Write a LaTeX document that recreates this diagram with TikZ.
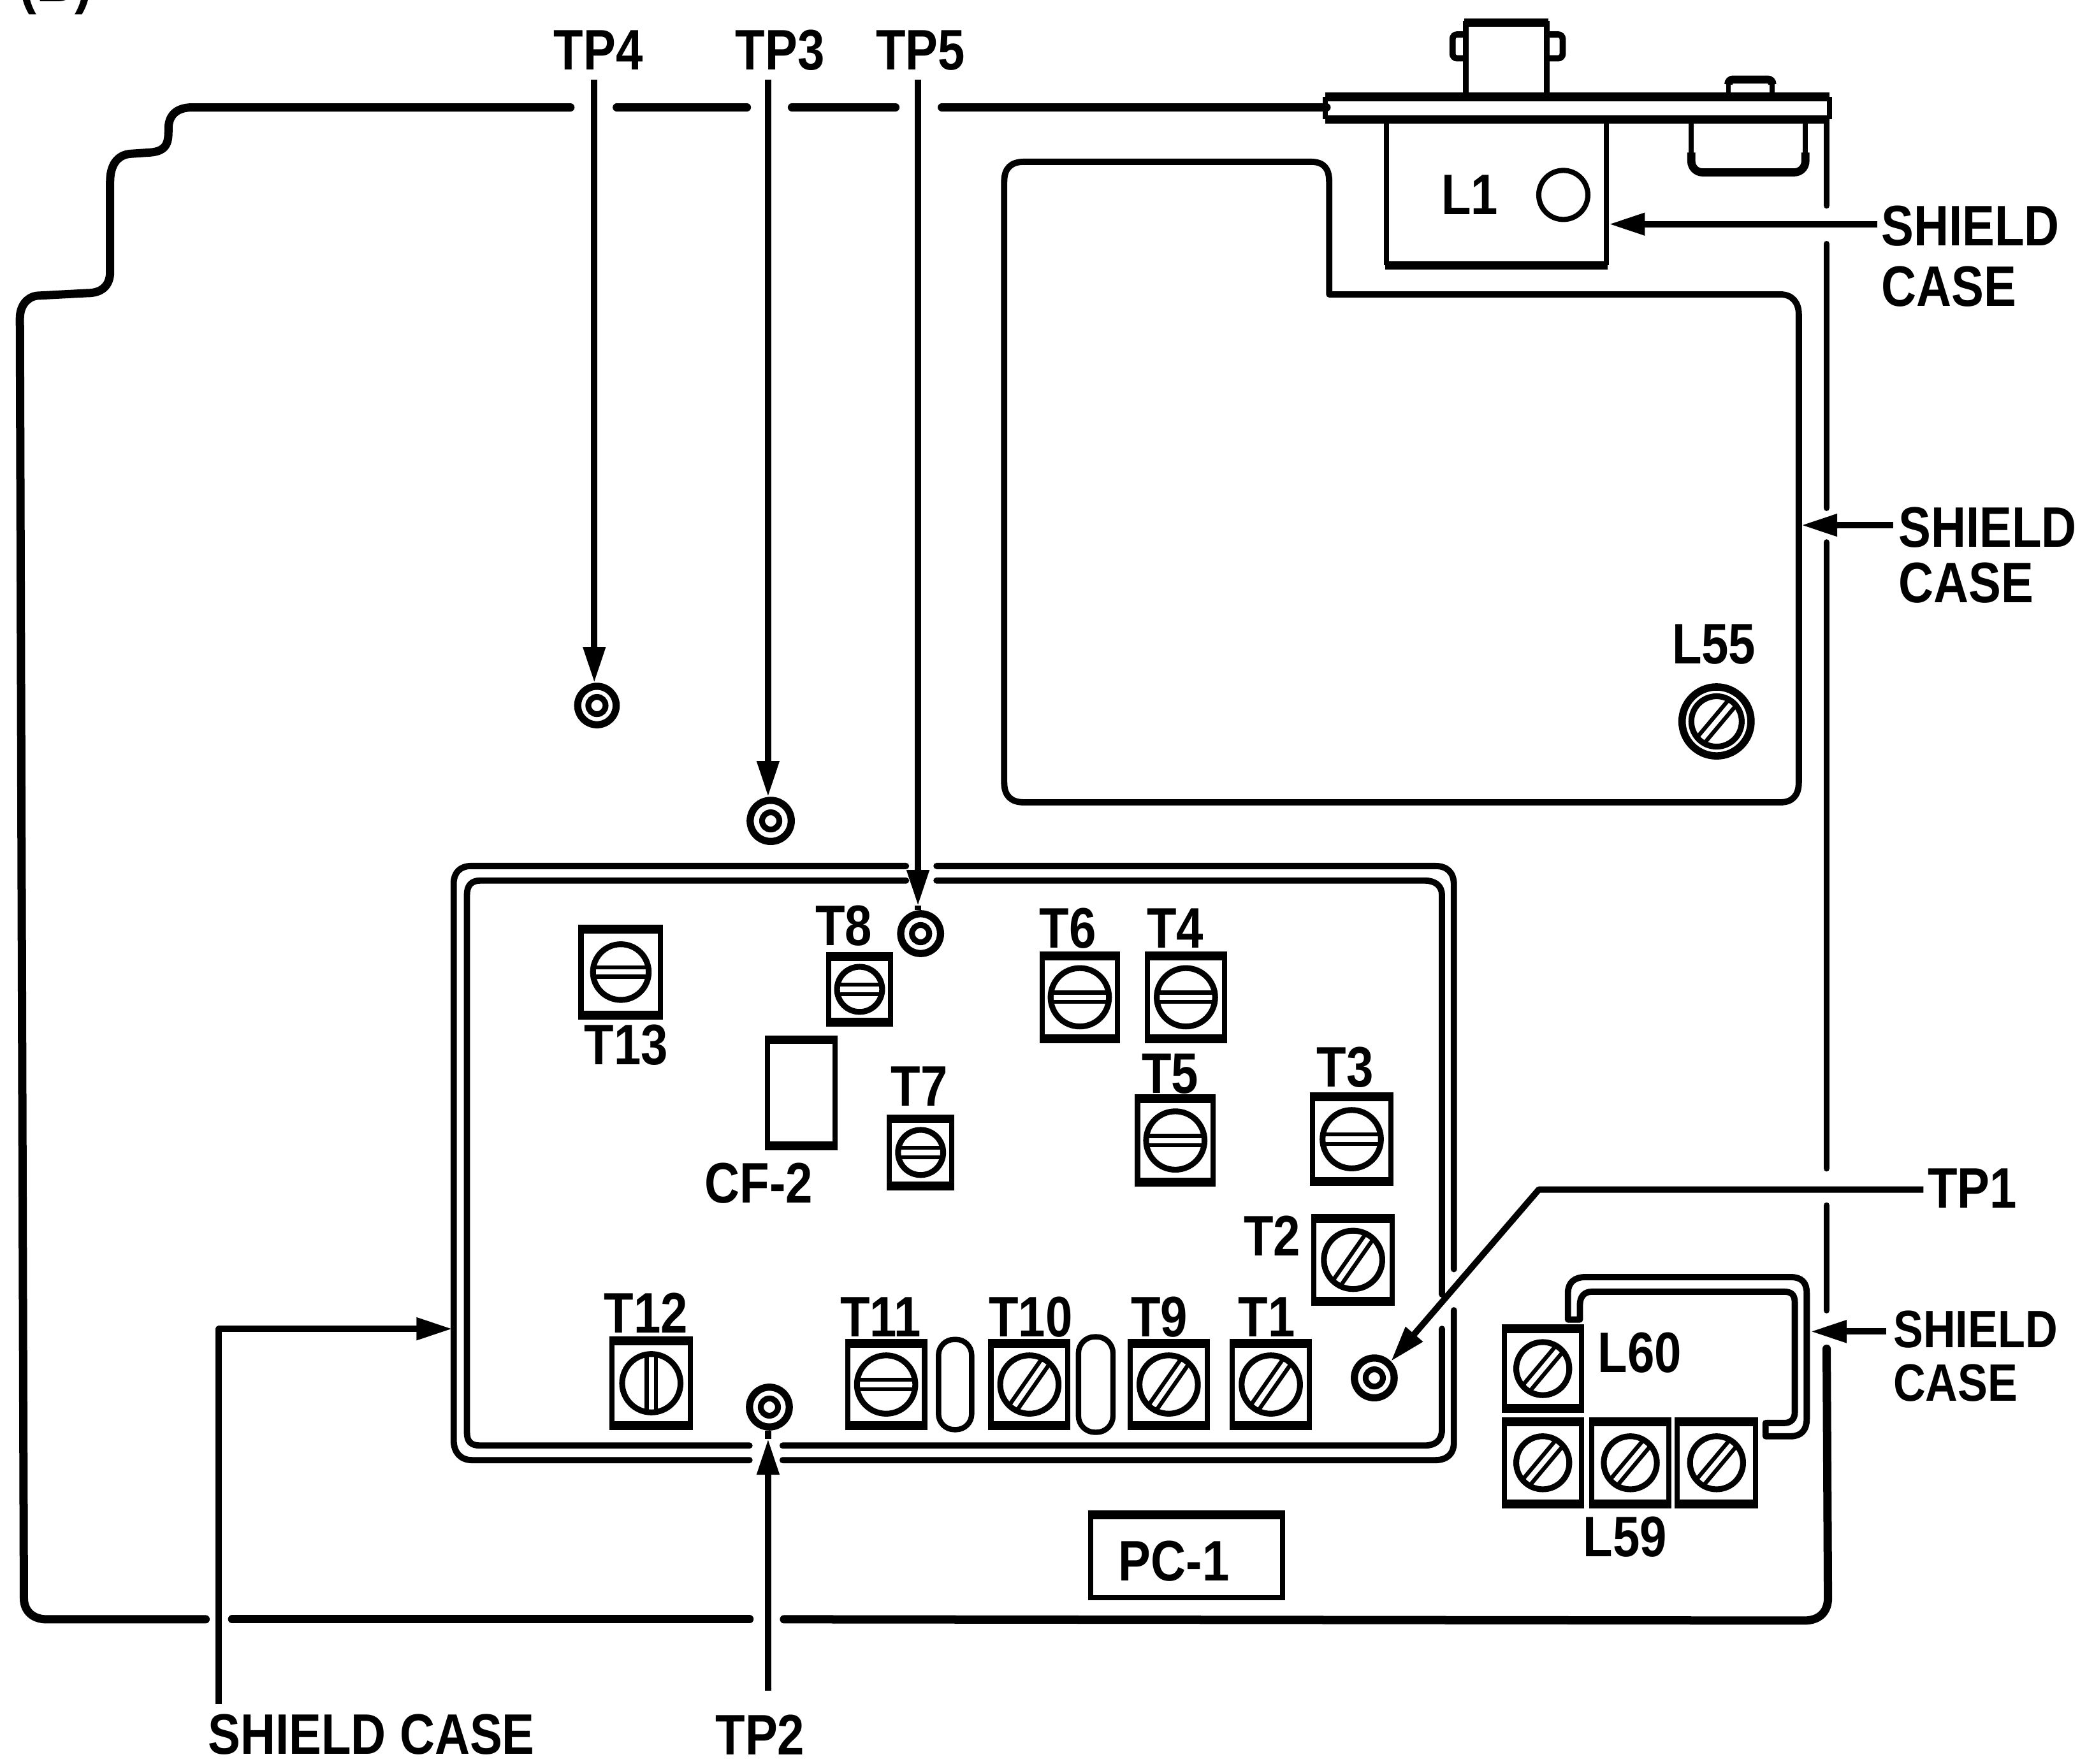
\documentclass[tikz,border=0pt]{standalone}
\usepackage{fontspec}
\setmainfont[FakeStretch=0.85]{Liberation Sans}
\usetikzlibrary{arrows.meta}
\newlength\un \setlength\un{0.02081cm}
\tikzset{
  outerln/.style={line width=3.7pt,line cap=round,line join=round},
  wall/.style={line width=2.8pt,line cap=round,line join=round},
  lead/.style={line width=2.8pt},
  headed/.style={-{Triangle[length=16pt,width=9.5pt]}},
  lbl/.style={inner sep=0pt,font=\fontsize{25.5}{27}\selectfont\bfseries},
  boxn/.style={draw,line width=2.3pt,inner sep=0pt,fill=white},
  tpring/.style={circle,draw,line width=3.2pt,inner sep=0pt,minimum size=#1*\un},
  tpcore/.style={circle,draw,line width=2.6pt,inner sep=0pt,minimum size=13*\un},
  bar/.style={line width=3.3pt},
  slotln/.style={line width=1.8pt},
}
% name, cx, cy, w, h, r, angle
\newcommand\screwbox[7]{%
  \node[boxn,minimum width=#4*\un,minimum height=#5*\un] (#1) at (#2,#3) {};
  \draw[bar] (#1.north west) -- (#1.north east);
  \draw[bar] (#1.south west) -- (#1.south east);
  \screwhead{#1s}{#2}{#3}{#6}{#7}%
}
% name, cx, cy, r, angle
\newcommand\screwhead[5]{%
  \node[circle,draw,line width=2.6pt,inner sep=0pt,minimum size=2*#4*\un] (#1) at (#2,#3) {};
  \begin{scope}[shift={(#2,#3)},rotate=#5]
    \draw[slotln] (-#4+1,-3.5) -- (#4-1,-3.5);
    \draw[slotln] (-#4+1,3.5) -- (#4-1,3.5);
  \end{scope}%
}
\begin{document}
\begin{tikzpicture}[x=\un,y=-\un]
\useasboundingbox (0,0) rectangle (1568,1330);
% cut-off caption at the top edge
\begin{scope}
\clip (0,0) rectangle (1568,1330);
\node[lbl,anchor=base,font=\fontsize{28}{30}\selectfont\bfseries] (cap) at (42,1) {(B)};
\end{scope}

% outer chassis
\draw[outerln] (1000,81) -- (710,81);
\draw[outerln] (675,81) -- (597,81);
\draw[outerln] (563,81) -- (465,81);
\draw[outerln] (430,81) -- (145,81)
  .. controls (132,81) and (127,88) .. (127,97)
  .. controls (127,106) and (127,114) .. (113,115)
  -- (98,116) .. controls (88,117) and (83,125) .. (83,137)
  -- (83,205) .. controls (83,216) and (76,221) .. (66,221)
  -- (28,223) .. controls (20,224) and (15,231) .. (15,240)
  -- (18,1205) .. controls (18,1215) and (25,1221) .. (35,1221)
  -- (155,1221);
\draw[outerln] (175,1221) -- (565,1221);
\draw[outerln] (591,1221) -- (1360,1222)
  .. controls (1372,1222) and (1378,1215) .. (1378,1205) -- (1377,1017);
\draw[wall] (1377,988) -- (1377,909);
\draw[wall] (1377,881) -- (1377,409);
\draw[wall] (1377,383) -- (1377,184);
\draw[wall] (1377,155) -- (1377,92);

% connector plate
\draw[line width=3.6pt,line join=round] (999,90) -- (1379,90);
\draw[line width=3.9pt,line join=round] (999,73) -- (1379,73);
\draw[line width=2.4pt] (999,73) -- (999,90);
\draw[line width=2.4pt] (1379,73) -- (1379,90);
% connector on top
\draw[line width=2.4pt] (1105,72) -- (1105,16);
\draw[line width=2.4pt] (1166,72) -- (1166,16);
\draw[line width=3.9pt] (1104,17) -- (1167,17);
\draw[line width=2.8pt,rounded corners=2pt] (1105,26) -- (1095,26) -- (1095,44) -- (1105,44);
\draw[line width=2.8pt,rounded corners=2pt] (1166,26) -- (1178,26) -- (1178,44) -- (1166,44);
% stub
\draw[line width=2.2pt] (1303,72) -- (1303,62);
\draw[line width=2.2pt] (1336,72) -- (1336,62);
\draw[line width=3.6pt,rounded corners=2pt] (1303,63) -- (1303,60) -- (1336,60) -- (1336,63);
% lower box
\draw[line width=2.2pt] (1275,90) -- (1275,120);
\draw[line width=2.2pt] (1361,90) -- (1361,120);
\draw[line width=3.6pt,rounded corners=5pt] (1275,115) -- (1275,130) -- (1361,130) -- (1361,115);

% L1 can
\draw[line width=2.3pt] (1045,90) -- (1045,200);
\draw[line width=2.3pt] (1211,90) -- (1211,200);
\draw[line width=3.8pt] (1044,200) -- (1212,200);
\node[circle,draw,line width=2.3pt,minimum size=37*\un,inner sep=0pt] (l1ring) at (1178.5,147) {};
\node[lbl] (l1) at (1108,147) {L1};

% upper shield
\draw[wall] (1002,222) -- (1342,222)
  .. controls (1351,222) and (1356,228) .. (1356,237)
  -- (1356,590) .. controls (1356,600) and (1351,605) .. (1342,605)
  -- (772,605) .. controls (762,605) and (757,600) .. (757,590)
  -- (757,137) .. controls (757,127) and (762,122) .. (772,122)
  -- (988,122) .. controls (998,122) and (1002,127) .. (1002,137)
  -- cycle;

% board double wall
\draw[wall] (683,653) -- (355,653) .. controls (347,653) and (342,658) .. (342,666)
  -- (342,1086) .. controls (342,1095) and (347,1101) .. (356,1101) -- (565,1101);
\draw[wall] (590,1101) -- (1082,1101) .. controls (1091,1101) and (1096,1096) .. (1096,1088) -- (1096,988);
\draw[wall] (1096,957) -- (1096,667) .. controls (1096,658) and (1091,653) .. (1082,653) -- (706,653);
\draw[wall] (683,664) -- (362,664) .. controls (355,664) and (352,668) .. (352,675)
  -- (352,1080) .. controls (352,1087) and (355,1090) .. (362,1090) -- (565,1090);
\draw[wall] (590,1090) -- (1074,1090) .. controls (1082,1090) and (1087,1086) .. (1087,1078) -- (1087,1002);
\draw[wall] (1087,976) -- (1087,675) .. controls (1087,668) and (1082,664) .. (1074,664) -- (706,664);

% test rings
\node[tpring=29] (tp4ring) at (450,532) {};
\node[tpcore] at (tp4ring) {};
\node[tpring=31] (tp3ring) at (581,619) {};
\node[tpcore] at (tp3ring) {};
\node[tpring=30] (tp5ring) at (694,704) {};
\node[tpcore] at (tp5ring) {};
\node[tpring=30] (tp2ring) at (580,1061) {};
\node[tpcore] at (tp2ring) {};
\node[tpring=30] (tp1ring) at (1036,1039) {};
\node[tpcore] at (tp1ring) {};

% adjustment cores
\screwbox{t13}{468}{733}{60}{62}{21}{0}
\screwbox{t8}{648}{746}{47}{47}{17}{0}
\screwbox{t6}{814}{752}{57}{60}{22}{0}
\screwbox{t4}{894}{752}{58}{60}{22}{0}
\screwbox{t5}{886}{860}{57}{60}{22}{0}
\screwbox{t3}{1019}{859}{59}{61}{22}{0}
\screwbox{t7}{694}{869}{47}{48}{17}{0}
\screwbox{t2}{1020}{950}{59}{60}{22}{55}
\screwbox{t12}{491}{1043}{59}{61}{22}{90}
\screwbox{t11}{668}{1044}{58}{59}{22}{0}
\screwbox{t10}{776}{1044}{58}{59}{22}{55}
\screwbox{t9}{881}{1044}{58}{59}{22}{55}
\screwbox{t1}{958}{1044}{58}{59}{22}{55}
\screwbox{l60}{1163}{1032}{58}{57}{20}{50}
\screwbox{l59a}{1163}{1103}{58}{59}{20}{50}
\screwbox{l59b}{1229}{1103}{58}{59}{20}{50}
\screwbox{l59c}{1294}{1103}{59}{59}{20}{50}

% L55
\node[circle,draw,line width=3.3pt,minimum size=52*\un,inner sep=0pt] (l55ring) at (1294,544) {};
\screwhead{l55s}{1294}{544}{19}{50}

% ovals and filter
\node[draw,line width=2.4pt,rounded corners=7pt,minimum width=25*\un,minimum height=68*\un,inner sep=0pt] (ova) at (720,1044) {};
\node[draw,line width=2.4pt,rounded corners=7.3pt,minimum width=26*\un,minimum height=72*\un,inner sep=0pt] (ovb) at (826,1044) {};
\node[draw,line width=2.2pt,minimum width=51*\un,minimum height=77*\un,inner sep=0pt] (cf2box) at (604,824) {};
\draw[bar] (cf2box.south west) -- (cf2box.south east);
\draw[line width=3pt] (cf2box.north west) -- (cf2box.north east);

% L60 shield
\draw[wall,line join=round] (1182,995) -- (1182,975) .. controls (1182,967) and (1187,963) .. (1195,963)
  -- (1350,963) .. controls (1358,963) and (1362,967) .. (1362,975)
  -- (1362,1070) .. controls (1362,1078) and (1358,1083) .. (1350,1083) -- (1331,1083) -- (1331,1073)
  -- (1345,1073) .. controls (1350,1073) and (1353,1070) .. (1353,1065)
  -- (1353,982) .. controls (1353,976) and (1350,974) .. (1345,974)
  -- (1200,974) .. controls (1194,974) and (1191,978) .. (1191,984) -- (1191,995) -- cycle;

% PC-1
\node[draw,line width=2.3pt,minimum width=145*\un,minimum height=61*\un,inner sep=0pt] (pc1) at (894.5,1174) {};
\draw[bar] (pc1.north west) -- (pc1.north east);
\node[lbl] (pc1t) at (885,1177) {PC-1};

% labels
\node[lbl] (tp4) at (451,38) {TP4};
\node[lbl] (tp3) at (588,38) {TP3};
\node[lbl] (tp5) at (694,38) {TP5};
\node[lbl] (tp2) at (573,1308) {TP2};
\node[lbl,anchor=west] (tp1) at (1453,896) {TP1};
\node[lbl,anchor=north west,align=left] (sc1) at (1418,155) {SHIELD\\CASE};
\node[lbl,anchor=north west,align=left] (sc2) at (1431,382) {SHIELD\\[-2.1pt]CASE};
\node[lbl,anchor=north west,align=left,font=\fontsize{23.5}{25}\selectfont\bfseries] (sc3) at (1427,988) {SHIELD\\[-1.2pt]CASE};
\node[lbl] (sc4) at (280,1308) {SHIELD CASE};
\node[lbl] (tl55) at (1292,486) {L55};
\node[lbl] (tl60) at (1236,1020) {L60};
\node[lbl] (tl59) at (1225,1159) {L59};
\node[lbl] at (636,698) {T8};
\node[lbl] at (805,700) {T6};
\node[lbl] at (886,700) {T4};
\node[lbl] at (472,788) {T13};
\node[lbl] at (693,819) {T7};
\node[lbl] at (882,810) {T5};
\node[lbl] at (1014,805) {T3};
\node[lbl] at (572,892) {CF-2};
\node[lbl] at (959,932) {T2};
\node[lbl] at (487,990) {T12};
\node[lbl] at (664,993) {T11};
\node[lbl] at (777,993) {T10};
\node[lbl] at (874,993) {T9};
\node[lbl] at (955,993) {T1};

% leaders
\coordinate (a1) at (448,60);
\draw[lead,headed] (a1) -- (tp4ring.north -| a1);
\coordinate (a2) at (579,60);
\draw[lead,headed] (a2) -- (tp3ring.north -| a2);
\coordinate (a3) at (692,60);
\coordinate (a3h) at (692,683);
\draw[lead,headed] (a3) -- (a3h);
\draw[lead] (a3h) -- (tp5ring.north -| a3);
\coordinate (a4) at (579,1275);
\coordinate (a4h) at (579,1085);
\draw[lead,headed] (a4) -- (a4h);
\draw[lead] (a4h) -- (tp2ring.south -| a4);
\coordinate (b1) at (1415,169);
\draw[lead,headed] (b1) -- (1213,169);
\coordinate (b2) at (1427,396);
\draw[lead,headed] (b2) -- (1358,396);
\coordinate (b3) at (1422,1004);
\draw[lead,headed] (b3) -- (1365,1004);
\coordinate (b4) at (165,1285);
\draw[lead,headed,line join=round] (b4) -- (165,1002) -- (341,1002);
\coordinate (b5) at (1450,897);
\draw[lead,headed,line join=round] (b5) -- (1160,897) -- (tp1ring.north east);
\end{tikzpicture}
\end{document}
